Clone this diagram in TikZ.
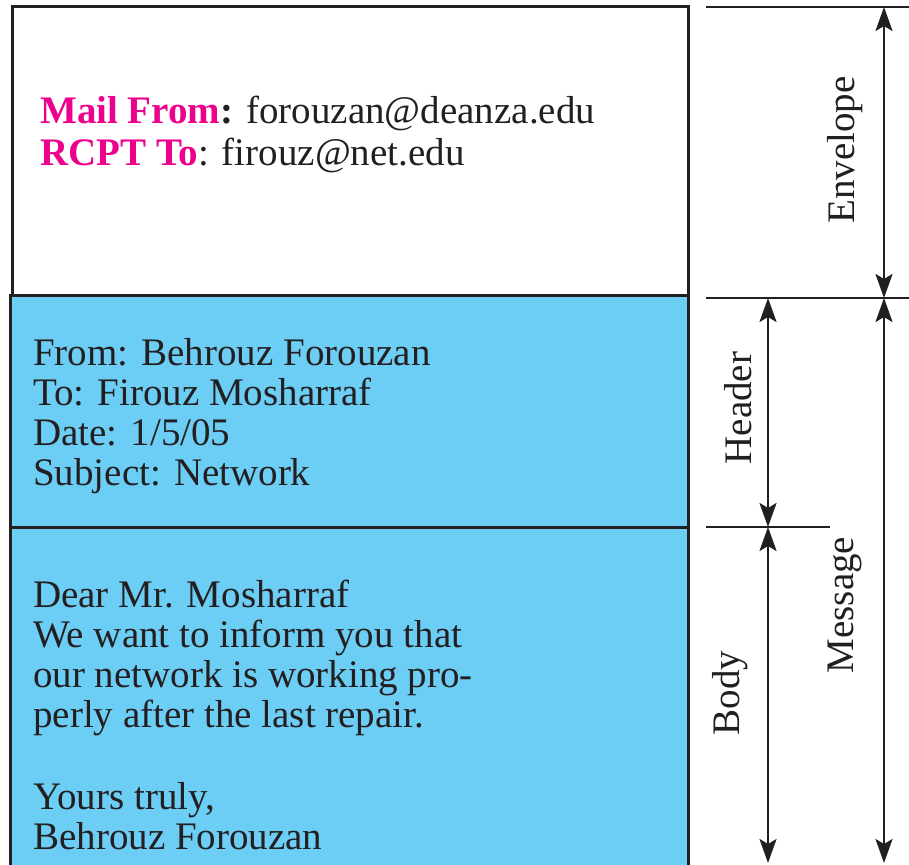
\documentclass[tikz,border=0pt]{standalone}
\usepackage{fontspec}
\setmainfont{Liberation Serif}
\usetikzlibrary{arrows.meta}
\definecolor{ink}{RGB}{35,31,32}
\definecolor{msgblue}{RGB}{108,206,245}
\definecolor{smtppink}{RGB}{236,0,140}
\begin{document}
\begin{tikzpicture}[x=1pt,y=-1pt,
  txt/.style={anchor=base west,inner sep=0pt,font=\fontsize{39}{40}\selectfont,text=ink},
  lbl/.style={rotate=90,inner sep=0pt,font=\fontsize{39}{40}\selectfont,text=ink},
  frame/.style={draw=ink,line width=3pt},
  guide/.style={draw=ink,line width=2.4pt},
  tip/.tip={Stealth[length=24pt,width=17pt,inset=5pt]},
  dim/.style={draw=ink,line width=2.4pt,tip-tip}]
\useasboundingbox (0,0) rectangle (909,864);
% message (header + body) background
\fill[msgblue] (10,295) rectangle (688,870);
\draw[frame] (10,870) -- (10,295) -- (688,295) -- (688,870);
\draw[frame] (10,527) -- (688,527);
% envelope box
\draw[frame] (12,295) -- (12,7) -- (688,7) -- (688,295);
% envelope text
\node[txt] (mf) at (40,124) {\textcolor{smtppink}{\textbf{Mail From}}\textbf{:} forouzan@deanza.edu};
\node[txt] (rt) at (40,165) {\textcolor{smtppink}{\textbf{RCPT To}}: firouz@net.edu};
% header text
\node[txt] (h1) at (33,365) {From: Behrouz Forouzan};
\node[txt] (h2) at (33,405) {To: Firouz Mosharraf};
\node[txt] (h3) at (33,445) {Date: 1/5/05};
\node[txt] (h4) at (33,485) {Subject: Network};
% body text
\node[txt] (b1) at (33,607) {Dear Mr. Mosharraf};
\node[txt] (b2) at (33,647) {We want to inform you that};
\node[txt] (b3) at (33,687) {our network is working pro-};
\node[txt] (b4) at (33,727) {perly after the last repair.};
\node[txt] (b5) at (33,809) {Yours truly,};
\node[txt] (b6) at (33,849) {Behrouz Forouzan};
% dimension guides
\coordinate (gtopL) at (706,7);   \coordinate (gtopR) at (909,7);
\coordinate (gmidL) at (706,298); \coordinate (gmidR) at (909,298);
\coordinate (ghbL) at (706,527);  \coordinate (ghbR) at (830,527);
\draw[guide] (gtopL) -- (gtopR);
\draw[guide] (gmidL) -- (gmidR);
\draw[guide] (ghbL) -- (ghbR);
\coordinate (envT) at (884,7);   \coordinate (envB) at (884,298);
\coordinate (msgT) at (884,298); \coordinate (msgB) at (884,863);
\coordinate (hdrT) at (768,298); \coordinate (hdrB) at (768,527);
\coordinate (bdyT) at (768,527); \coordinate (bdyB) at (768,863);
\draw[dim] (envT) -- (envB);
\draw[dim] (hdrT) -- (hdrB);
\draw[dim] (bdyT) -- (bdyB);
\draw[dim] (msgT) -- (msgB);
% dimension labels
\node[lbl] (lenv) at (845,150) {Envelope};
\node[lbl] (lhdr) at (738,408) {Header};
\node[lbl] (lbdy) at (730,693) {Body};
\node[lbl] (lmsg) at (845,605) {Message};
\end{tikzpicture}
\end{document}
